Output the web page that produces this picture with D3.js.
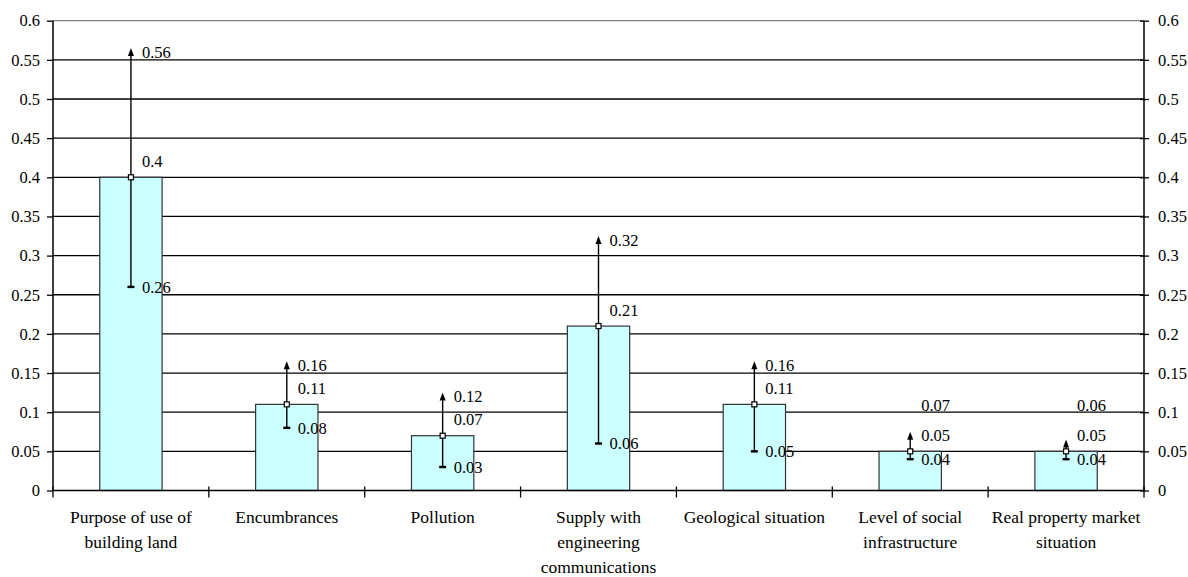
<!DOCTYPE html>
<html><head><meta charset="utf-8">
<script src="https://cdn.jsdelivr.net/npm/d3@7"></script>
<style>body{margin:0;background:#fff}svg{display:block}</style>
</head><body><svg id="c" width="1188" height="577"></svg>
<script>
const categories = [["Purpose of use of","building land"],["Encumbrances"],["Pollution"],["Supply with","engineering","communications"],["Geological situation"],["Level of social","infrastructure"],["Real property market","situation"]];
const meanValues = [0.4,0.11,0.07,0.21,0.11,0.05,0.05];
const lowValues  = [0.26,0.08,0.03,0.06,0.05,0.04,0.04];
const highValues = [0.56,0.16,0.12,0.32,0.16,0.07,0.06];
const yTicks = [0,0.05,0.1,0.15,0.2,0.25,0.3,0.35,0.4,0.45,0.5,0.55,0.6];

const FONT = '"Liberation Serif"';
const svg = d3.select("#c");
const L = 53, R = 1144, T = 20.7, B = 490.5;
const x = d3.scaleBand().domain(d3.range(categories.length)).range([L,R]).paddingInner(0).paddingOuter(0);
const y = d3.scaleLinear().domain([0,0.6]).range([B,T]);
const fs = 16.5;

// gridlines
svg.append("g").selectAll("line").data(yTicks.filter(d=>d>0)).join("line")
  .attr("x1",L).attr("x2",R).attr("y1",d=>y(d)).attr("y2",d=>y(d))
  .attr("stroke",d=>d===0.6?"#808080":"#000").attr("stroke-width",1.3);

// bars
const bw = x.bandwidth()*0.4;
svg.append("g").selectAll("rect").data(meanValues).join("rect")
  .attr("x",(d,i)=>x(i)+x.bandwidth()/2-bw/2).attr("width",bw)
  .attr("y",d=>y(d)).attr("height",d=>B-y(d))
  .attr("fill","#ccffff").attr("stroke","#333").attr("stroke-width",1.2);

// left axis
const ga = svg.append("g").attr("transform",`translate(${L},0)`)
  .call(d3.axisLeft(y).tickValues(yTicks).tickFormat(d=>String(d)).tickSize(6).tickPadding(7));
ga.attr("font-family",null).attr("font-size",null);
ga.select(".domain").attr("stroke","#000").attr("stroke-width",1.5).attr("d",`M0,${B}V${T}`);
ga.selectAll(".tick line").attr("stroke","#000").attr("stroke-width",1.3);
ga.selectAll(".tick text").style("font-size",fs+"px").style("font-family",FONT).attr("fill","#000");

// right axis
const gr = svg.append("g").attr("transform",`translate(${R},0)`)
  .call(d3.axisRight(y).tickValues(yTicks).tickFormat(d=>String(d)).tickSize(5).tickPadding(9));
gr.attr("font-family",null).attr("font-size",null);
gr.select(".domain").attr("stroke","#000").attr("stroke-width",1.5).attr("d",`M0,${B}V${T}`);
gr.selectAll(".tick line").attr("stroke","#000").attr("stroke-width",1.3).attr("x1",-4);
gr.selectAll(".tick text").style("font-size",fs+"px").style("font-family",FONT).attr("fill","#000");

// bottom axis
svg.append("line").attr("x1",L).attr("x2",R).attr("y1",B).attr("y2",B).attr("stroke","#000").attr("stroke-width",1.5);
svg.append("g").selectAll("line").data(d3.range(categories.length+1)).join("line")
  .attr("x1",i=>i<categories.length?x(i):R).attr("x2",i=>i<categories.length?x(i):R)
  .attr("y1",B-4).attr("y2",B+7).attr("stroke","#000").attr("stroke-width",1.3);

// category labels
svg.append("g").selectAll("text").data(categories).join("text")
  .attr("x",(d,i)=>x(i)+x.bandwidth()/2).attr("y",523).attr("text-anchor","middle")
  .style("font-size","17.5px").style("font-family",FONT).attr("fill","#000")
  .each(function(lines){
    const t=d3.select(this);
    lines.forEach((s,k)=>t.append("tspan").attr("x",t.attr("x")).attr("y",523+k*25).text(s));
  });

// error bars
const eg = svg.append("g");
meanValues.forEach((m,i)=>{
  const cx = x(i)+x.bandwidth()/2;
  const lo = lowValues[i], hi = highValues[i];
  eg.append("line").attr("x1",cx).attr("x2",cx).attr("y1",y(lo)).attr("y2",y(hi)+2).attr("stroke","#000").attr("stroke-width",1.4);
  eg.append("path").attr("d",`M${cx},${y(hi)-4}L${cx-3},${y(hi)+4}L${cx+3},${y(hi)+4}Z`).attr("fill","#000");
  eg.append("rect").attr("x",cx-3.5).attr("y",y(lo)-1.2).attr("width",7).attr("height",2.4).attr("fill","#000");
  eg.append("rect").attr("x",cx-2.5).attr("y",y(m)-2.5).attr("width",5).attr("height",5).attr("fill","#fff").attr("stroke","#000").attr("stroke-width",1.2);
  const meanLabY = y(m)-16;
  let hiLabY = y(hi);
  if (Math.abs(hiLabY-meanLabY)<20) hiLabY = meanLabY-30;
  const lab=(v,yy)=>eg.append("text").attr("x",cx+11).attr("y",yy).attr("dy","0.35em")
    .style("font-size",fs+"px").style("font-family",FONT).attr("fill","#000").text(String(v));
  lab(hi,hiLabY); lab(m,meanLabY); lab(lo,y(lo));
});
</script></body></html>
